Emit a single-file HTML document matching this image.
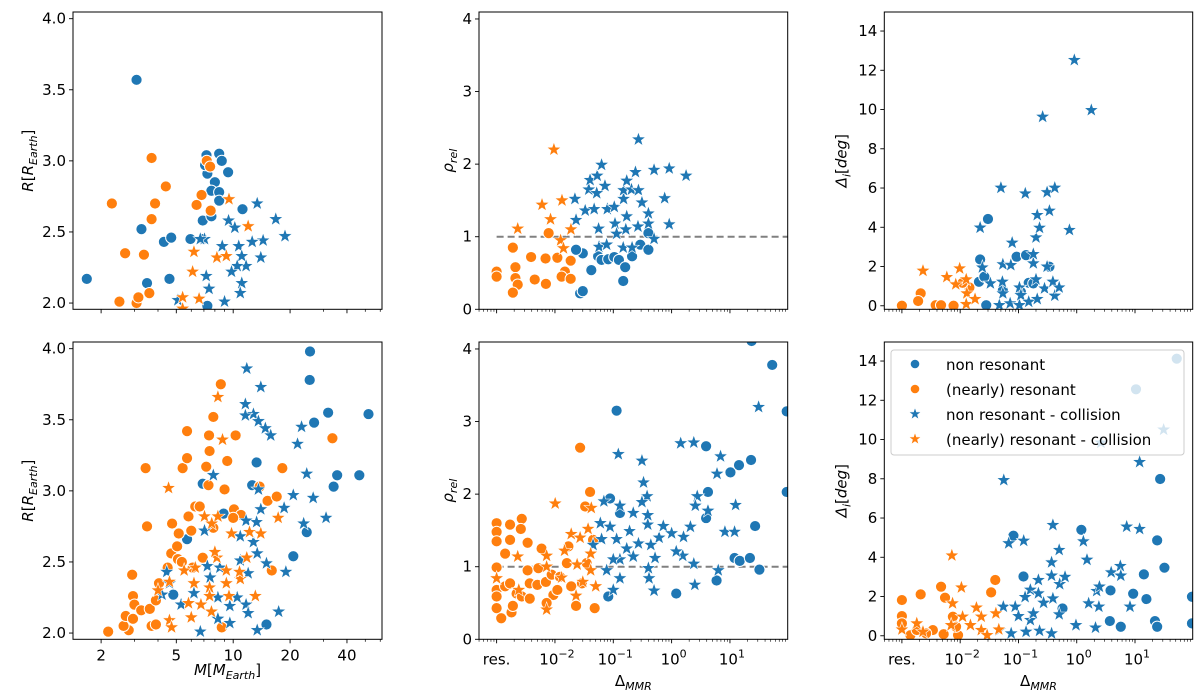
<!DOCTYPE html>
<html><head><meta charset="utf-8"><title>Planet scatter panels</title>
<style>
html,body{margin:0;padding:0;background:#fff;}
svg{display:block;font-family:"DejaVu Sans","Liberation Sans",sans-serif;}
</style></head>
<body>
<svg id="fig" width="1200" height="697" viewBox="0 0 1200 697" xmlns="http://www.w3.org/2000/svg"></svg>
<script>
// ---------- DATA ----------
const aTopNonRes = [[3.08,3.57],[1.68,2.17],[3.27,2.52],[3.5,2.14],[4.3,2.43],[4.7,2.46],[4.6,2.17],[5.94,2.45],[7.22,3.04],[8.43,3.05],[8.7,3.0],[7.3,2.91],[9.4,2.92],[8.0,2.85],[7.67,2.79],[8.43,2.78],[8.43,2.72],[11.2,2.66],[6.9,2.58],[7.67,2.61],[7.3,1.98],[6.9,2.45],[7.1,2.97]];
const aTopRes = [[2.28,2.70],[2.68,2.35],[2.5,2.01],[3.08,2.0],[3.15,2.04],[3.37,2.34],[3.70,3.02],[3.7,2.59],[3.6,2.07],[3.86,2.70],[4.4,2.82],[6.8,2.76],[6.4,2.69],[7.25,3.0],[7.55,2.96],[7.6,2.65]];
const aTopNonResCol = [[13.4,2.70],[16.8,2.59],[18.8,2.47],[14.4,2.44],[12.6,2.43],[10.7,2.40],[14.0,2.32],[11.1,2.33],[11.7,2.26],[10.5,2.26],[9.8,2.22],[11.1,2.14],[8.75,2.40],[9.45,2.58],[7.05,2.45],[7.2,2.19],[7.45,2.10],[9.0,2.01],[10.2,2.53],[10.9,2.07],[6.7,2.45],[5.1,2.02]];
const aTopResCol = [[9.5,2.73],[12.0,2.54],[6.2,2.36],[8.2,2.32],[9.2,2.33],[6.1,2.22],[5.4,2.04],[6.6,2.03],[5.4,1.96]];
const aBotNonRes = [[25.5,3.98],[25.4,3.78],[31.8,3.55],[52,3.54],[26.8,3.48],[13.3,3.20],[35.5,3.11],[46.5,3.11],[34,3.03],[20.8,2.54],[15,2.06],[5.7,2.66],[12.6,3.04],[6.9,3.05],[24.5,2.71],[8.9,2.84],[4.82,2.27]];
const aBotRes = [[2.18,2.01],[2.8,2.02],[2.63,2.05],[2.7,2.12],[2.92,2.41],[2.95,2.26],[3.0,2.20],[2.95,2.10],[3.44,3.16],[3.5,2.75],[3.26,2.16],[3.62,2.17],[3.7,2.05],[3.9,2.23],[4.5,2.46],[4.75,2.77],[4.7,2.56],[5.05,2.61],[5.15,2.70],[5.1,2.52],[5.4,3.16],[5.7,3.42],[5.7,3.23],[5.8,2.82],[6.0,2.72],[6.3,2.89],[6.65,2.89],[7.2,3.17],[7.45,3.39],[7.5,3.28],[7.4,3.04],[7.85,3.52],[8.6,3.75],[9.0,3.01],[9.3,3.21],[10.3,3.39],[10.1,2.87],[11.0,2.83],[13.8,3.03],[15.2,2.93],[17,2.96],[18.2,3.16],[33.5,3.37],[8.7,2.04],[5.35,2.50],[6.9,2.53],[7.85,2.74],[10,2.81],[4.05,2.35],[6.1,2.46],[16,2.44],[3.9,2.06]];
const aBotNonResCol = [[11.8,3.86],[14,3.73],[11.6,3.61],[12.8,3.54],[11.6,3.53],[13.6,3.49],[14.8,3.44],[15.8,3.39],[23,3.45],[21.9,3.33],[24.5,3.12],[26.5,2.95],[20.8,2.97],[31,2.81],[23.6,2.77],[18.6,2.88],[13.6,3.01],[14,2.87],[13.3,2.78],[11.7,2.79],[10.9,2.68],[12.8,2.64],[13.4,2.56],[15,2.49],[19,2.43],[17.4,2.15],[13.4,2.02],[6.7,2.01],[7.85,3.11],[7.05,2.72],[7.3,2.47],[4.45,2.43],[4.2,2.27],[4.6,2.35],[5.3,2.20],[6.2,2.28],[7.55,2.39],[8.3,2.25],[9.6,2.19],[10.5,2.25],[11.7,2.20],[12,2.14],[9.6,2.07],[8.3,2.10],[6.2,2.35],[8.5,2.46],[10.9,2.51],[12,2.42]];
const aBotResCol = [[8.3,3.66],[8.78,3.36],[4.55,3.02],[7.05,2.82],[8.3,2.82],[7.7,2.77],[9.8,2.70],[12.2,2.71],[14,2.70],[17.3,2.81],[13.1,2.26],[11.8,2.53],[10.9,2.38],[10.8,2.43],[9.2,2.44],[9.2,2.35],[8.2,2.53],[8.0,2.57],[7.5,2.32],[7.5,2.26],[7.67,2.15],[6.75,2.20],[6.0,2.11],[5.8,2.21],[6.2,2.35],[6.3,2.46],[4.6,2.09],[4.72,2.04],[4.0,2.30],[4.6,2.36],[5.5,2.44],[9.5,2.26]];
const bTopNonRes = [[0.030,0.77],[0.041,0.55],[0.027,0.22],[0.030,0.25],[0.023,0.82],[0.055,0.73],[0.063,0.68],[0.082,0.69],[0.104,0.72],[0.125,0.68],[0.16,0.58],[0.148,0.39],[0.21,0.73],[0.29,0.89],[0.40,0.82],[0.042,0.54],[0.40,1.05]];
const bTopRes = [[0,0.52],[0,0.45],[0.0019,0.85],[0.0021,0.58],[0.0021,0.43],[0.0023,0.34],[0.0019,0.23],[0.0039,0.72],[0.0045,0.41],[0.0069,0.70],[0.0070,0.35],[0.0078,1.05],[0.011,0.71],[0.0148,0.52],[0.013,0.45],[0.0186,0.67],[0.0186,0.42]];
const bTopNonResCol = [[0.022,1.52],[0.023,1.23],[0.033,1.36],[0.038,1.65],[0.040,1.78],[0.053,1.84],[0.063,1.99],[0.072,1.70],[0.047,1.38],[0.056,1.11],[0.057,0.86],[0.077,0.89],[0.079,1.38],[0.104,1.41],[0.107,1.18],[0.114,1.04],[0.148,0.85],[0.164,1.10],[0.17,1.28],[0.15,1.52],[0.15,1.64],[0.17,1.77],[0.205,1.65],[0.24,1.89],[0.27,2.34],[0.27,1.64],[0.265,1.14],[0.31,1.47],[0.40,1.32],[0.40,1.18],[0.50,0.97],[0.50,1.92],[0.76,1.53],[0.91,1.94],[0.91,1.17],[1.77,1.84],[0.21,0.85],[0.052,1.6]];
const bTopResCol = [[0.0023,1.11],[0.0060,1.44],[0.0096,2.20],[0.0084,1.24],[0.0132,1.50],[0.0125,0.95],[0.0188,1.10],[0.014,0.84]];
const bBotNonRes = [[23.5,4.11],[53,3.78],[0.114,3.15],[94,3.14],[3.9,2.66],[23,2.47],[10.2,2.30],[14.3,2.40],[4.2,2.03],[94,2.03],[27,1.56],[12,1.12],[14.7,1.08],[22,1.12],[32,0.96],[5.9,0.81],[1.2,0.63],[3.9,1.67],[0.13,1.74],[0.088,1.94],[0.082,0.59]];
const bBotRes = [[0,1.60],[0,1.48],[0,1.35],[0,0.99],[0,0.68],[0,0.43],[0,0.59],[0.0014,1.18],[0.0017,1.58],[0.0017,1.37],[0.0027,1.66],[0.0026,1.52],[0.0034,1.33],[0.0034,0.95],[0.0012,0.29],[0.0018,0.37],[0.0019,0.46],[0.0014,0.73],[0.0017,0.77],[0.0022,0.63],[0.0027,0.59],[0.0037,0.56],[0.0037,0.77],[0.0059,1.25],[0.0052,0.98],[0.005,0.75],[0.007,0.79],[0.0094,0.61],[0.0072,0.50],[0.0088,0.89],[0.0122,0.86],[0.016,1.05],[0.017,1.28],[0.023,0.46],[0.027,2.64],[0.040,2.03],[0.033,1.83],[0.045,1.37],[0.048,0.43],[0.035,1.05],[0.029,0.77],[0.019,0.73],[0.011,0.68]];
const bBotNonResCol = [[0.122,2.55],[0.31,2.46],[0.33,2.16],[0.38,1.97],[0.31,1.89],[0.13,1.84],[0.069,1.90],[0.088,1.55],[0.22,1.74],[0.19,1.49],[0.39,1.58],[0.39,1.71],[0.27,1.32],[0.114,1.38],[0.17,1.25],[0.61,1.40],[0.72,1.56],[1.0,1.46],[0.44,1.30],[0.52,1.12],[0.13,1.10],[0.063,1.38],[0.077,0.95],[0.13,0.84],[0.1,0.68],[0.41,0.84],[0.4,0.98],[0.50,0.67],[1.43,2.70],[2.4,2.71],[2.75,1.97],[2.55,1.84],[4.2,1.77],[6.0,2.28],[6.9,2.52],[1.6,1.41],[2.1,1.55],[2.4,1.04],[1.55,1.15],[1.2,1.21],[2.5,0.75],[6.3,0.95],[8.2,1.48],[12,1.48],[12.5,1.85],[31,3.20],[0.045,1.3],[0.06,1.6],[0.22,1.14],[0.1,1.1]];
const bBotResCol = [[0,0.84],[0.0023,1.14],[0.0072,1.15],[0.0072,1.0],[0.0072,0.41],[0.0024,0.68],[0.0101,1.87],[0.013,0.85],[0.0146,1.22],[0.019,1.45],[0.027,1.40],[0.024,1.03],[0.023,0.60],[0.030,0.79],[0.037,1.52],[0.042,1.81],[0.041,0.95],[0.041,1.18],[0.050,0.73]];
const cTopNonRes = [[0.030,4.42],[0.093,2.50],[0.022,2.36],[0.021,1.22],[0.026,1.48],[0.135,2.58],[0.15,1.17],[0.028,0.03],[0.054,0.8],[0.11,0.71],[0.18,1.14],[0.34,1.99]];
const cTopRes = [[0,0],[0.0021,0.63],[0.0019,0.24],[0.0038,0.03],[0.0047,0.03],[0.0077,0],[0.0144,0.93],[0.011,1.17]];
const cTopNonResCol = [[0.022,3.98],[0.024,1.95],[0.033,1.14],[0.050,6.01],[0.054,2.11],[0.053,1.22],[0.047,0.03],[0.054,0.63],[0.078,3.21],[0.074,2.07],[0.072,0.12],[0.104,0.03],[0.104,0.93],[0.11,0.54],[0.131,5.72],[0.15,0.2],[0.18,2.16],[0.18,2.63],[0.2,1.34],[0.2,3.48],[0.21,4.62],[0.23,3.97],[0.21,0.34],[0.26,9.63],[0.28,0.88],[0.31,5.78],[0.31,1.99],[0.34,4.84],[0.39,1.22],[0.42,6.01],[0.42,0.51],[0.5,0.93],[0.75,3.86],[0.91,12.52],[1.78,9.97]];
const cTopResCol = [[0.0023,1.78],[0.0059,1.46],[0.0084,1.09],[0.0098,1.90],[0.0127,1.34],[0.013,0.63],[0.0127,0.08],[0.018,0.34]];
const cBotNonRes = [[52,14.12],[10.4,12.56],[27,7.99],[24,4.86],[1.2,5.4],[0.082,5.10],[0.122,3.02],[3.8,2.31],[9.3,2.14],[14.2,3.13],[15.7,1.87],[32,3.47],[95,1.99],[95,0.63],[3.7,0.75],[5.7,0.46],[22,0.75],[24,0.46],[0.57,1.39]];
const cBotRes = [[0,1.82],[0,1.0],[0,0.63],[0.0021,2.11],[0.0047,2.5],[0.0055,1.94],[0.0052,0.08],[0.0092,0.03],[0.034,2.21],[0.040,2.84],[0.0014,0.03],[0.0018,0.29],[0.0034,0.29],[0.0075,0.97],[0.0085,0.46],[0.0026,0.12]];
const cBotNonResCol = [[0.056,7.93],[0.068,4.71],[0.123,4.84],[0.39,5.64],[0.5,4.37],[0.37,3.74],[0.37,3.06],[0.51,2.63],[0.63,3.0],[1.3,4.81],[1.5,3.87],[0.22,2.84],[0.16,2.34],[0.22,2.16],[0.13,1.97],[0.27,1.68],[0.39,1.90],[0.055,1.48],[0.088,1.48],[0.1,1.0],[0.16,0.8],[0.5,1.09],[0.075,0.12],[0.135,0.2],[0.23,0.25],[0.37,0.12],[0.97,0.54],[2.1,0.41],[1.6,1.65],[2.4,1.48],[2.2,2.28],[2.45,2.5],[3.9,3.23],[5.6,3.55],[5.7,3.06],[7.2,5.56],[8.2,1.48],[12,5.44],[12,8.85],[31,10.5],[2.6,9.84],[0.047,0.29],[0.18,1.14]];
const cBotResCol = [[0,0.32],[0.0072,4.09],[0.0105,2.46],[0.019,1.43],[0.0074,1.65],[0.011,0.97],[0.015,0.54],[0.023,0.29],[0.029,0.03],[0.041,1.14],[0.046,0.32],[0.023,0.97],[0.0023,0.2],[0.0070,0.54],[0.0018,0.63]];
const massTicks = [2,5,10,20,40];
const massMinor = [3,4,6,7,8,9,30,50,60];
const rTicks = [2.0,2.5,3.0,3.5,4.0];
const rhoTicks = [0,1,2,3,4];
const incTicks = [0,2,4,6,8,10,12,14];
const mmrExps = [-2,-1,0,1];
const legendLabels = ["non resonant","(nearly) resonant","non resonant - collision","(nearly) resonant - collision"];

// ---------- DRAW ----------
const NS = "http://www.w3.org/2000/svg";
const svg = document.getElementById("fig");
const BLUE = "#1f77b4", ORANGE = "#ff7f0e";
function mk(tag, attrs, parent){const e=document.createElementNS(NS,tag);for(const k in attrs)e.setAttribute(k,attrs[k]);(parent||svg).appendChild(e);return e;}

function massAxis(L,R){const a=Math.log10(1.42),b=Math.log10(61.3);return v=>L+(Math.log10(v)-a)/(b-a)*(R-L);}
function mmrAxis(L,R){const a=-3.302,b=1.99;return v=>{const lv=v<=0?-3:Math.log10(v);return L+(lv-a)/(b-a)*(R-L);};}
function linAxis(T,B,lo,hi){return v=>B-(v-lo)/(hi-lo)*(B-T);}

const rows=[{T:12,B:309.3,bottom:false},{T:342,B:639.3,bottom:true}];
const cols=[{L:73,R:382},{L:479,R:787.7},{L:884.3,R:1192.7}];
const sets={
 a:[[aTopNonRes,aTopRes,aTopNonResCol,aTopResCol],[aBotNonRes,aBotRes,aBotNonResCol,aBotResCol]],
 b:[[bTopNonRes,bTopRes,bTopNonResCol,bTopResCol],[bBotNonRes,bBotRes,bBotNonResCol,bBotResCol]],
 c:[[cTopNonRes,cTopRes,cTopNonResCol,cTopResCol],[cBotNonRes,cBotRes,cBotNonResCol,cBotResCol]]
};
const seriesColor=[BLUE,ORANGE,BLUE,ORANGE];
const seriesStar=[false,false,true,true];

function starPts(x,y,r){let p=[];for(let i=0;i<10;i++){const rr=i%2?r*0.4:r;const an=-Math.PI/2+i*Math.PI/5;p.push((x+rr*Math.cos(an)).toFixed(2)+","+(y+rr*Math.sin(an)).toFixed(2));}return p.join(" ");}
function marker(g,x,y,i){
 if(seriesStar[i]){const s=mk("polygon",{points:starPts(x,y,7.6),fill:seriesColor[i],stroke:"#fff","stroke-width":0.6},g);
  
  }
 else{const c=mk("circle",{cx:x,cy:y,r:5.6,fill:seriesColor[i],stroke:"#fff","stroke-width":1},g);
  
  }
}
function text(str,x,y,anchor,size,parent){const t=mk("text",{x:x,y:y,"text-anchor":anchor,"font-size":size,fill:"#000"},parent);t.textContent=str;return t;}

["a","b","c"].forEach((key,ci)=>{
 rows.forEach((row,ri)=>{
  const {L,R}=cols[ci],{T,B}=row;
  const g=mk("g",{});
  
  
  const clipId="clip"+key+ri;
  const cp=mk("clipPath",{id:clipId},g);mk("rect",{x:L,y:T,width:R-L,height:B-T},cp);
  let sx,sy,yt,ylo,yhi;
  if(key==="a"){sx=massAxis(L,R);ylo=1.956;yhi=4.047;yt=rTicks;}
  else if(key==="b"){sx=mmrAxis(L,R);ylo=0;yhi=4.096;yt=rhoTicks;}
  else{sx=mmrAxis(L,R);ylo=-0.18;yhi=14.97;yt=incTicks;}
  sy=linAxis(T,B,ylo,yhi);
  const pg=mk("g",{"clip-path":"url(#"+clipId+")"},g);
  
  
  if(key==="b"){const d=mk("line",{x1:sx(0),x2:R,y1:sy(1),y2:sy(1),stroke:"#808080","stroke-width":2,"stroke-dasharray":"7,4"},pg);
   
   }
  sets[key][ri].forEach((arr,si)=>{arr.forEach(p=>marker(pg,sx(p[0]),sy(p[1]),si));});
  yt.forEach(v=>{const y=sy(v);mk("line",{x1:L-4,x2:L,y1:y,y2:y,stroke:"#000","stroke-width":0.9},g);
   const lab=text(key==="a"?v.toFixed(1):String(v),L-7,y+5,"end",15,g);
   
   });
  if(key==="a"){
   massTicks.forEach(v=>{const x=sx(v);mk("line",{x1:x,x2:x,y1:B,y2:B+4,stroke:"#000","stroke-width":0.9},g);
    if(row.bottom){const lab=text(String(v),x,B+21,"middle",15,g);
     
     }});
   massMinor.forEach(v=>{const x=sx(v);mk("line",{x1:x,x2:x,y1:B,y2:B+2.5,stroke:"#000","stroke-width":0.7},g);});
  } else {
   for(let e=-4;e<=1;e++){for(let m=1;m<=9;m++){const v=m*Math.pow(10,e);const x=sx(v);if(x<L||x>R)continue;
    if(m===1&&e>=-3){mk("line",{x1:x,x2:x,y1:B,y2:B+4,stroke:"#000","stroke-width":0.9},g);}
    else mk("line",{x1:x,x2:x,y1:B,y2:B+2.5,stroke:"#000","stroke-width":0.6},g);}}
   if(row.bottom){
    const rl=text("res.",sx(0),B+25,"middle",15,g);
    
    
    mmrExps.forEach(e=>{const x=sx(Math.pow(10,e));const t=mk("text",{x:x+2,y:B+25,"text-anchor":"middle","font-size":15},g);
     
     
     const a=mk("tspan",{},t);a.textContent="10";const s=mk("tspan",{dy:-7,"font-size":11},t);s.textContent=String(e).replace("-","\u2212");});
   }
  }
  mk("rect",{x:L,y:T,width:R-L,height:B-T,fill:"none",stroke:"#000","stroke-width":1},g);
  const cy=(T+B)/2, lx=L-(key==="a"?40:key==="b"?26:38);
  const yl=mk("text",{x:lx,y:cy,"text-anchor":"middle","font-size":15,transform:"rotate(-90 "+lx+" "+cy+")"},g);
  
  
  if(key==="a"){mk("tspan",{"font-style":"italic"},yl).textContent="R";mk("tspan",{},yl).textContent="[";mk("tspan",{"font-style":"italic"},yl).textContent="R";mk("tspan",{"font-size":11,dy:4,"font-style":"italic"},yl).textContent="Earth";mk("tspan",{dy:-4},yl).textContent="]";}
  else if(key==="b"){mk("tspan",{"font-style":"italic"},yl).textContent="\u03c1";mk("tspan",{"font-size":11,dy:4,"font-style":"italic"},yl).textContent="rel";}
  else{mk("tspan",{"font-style":"italic"},yl).textContent="\u0394";mk("tspan",{"font-size":11,dy:4,"font-style":"italic"},yl).textContent="i";mk("tspan",{dy:-4},yl).textContent="[";mk("tspan",{"font-style":"italic"},yl).textContent="deg";mk("tspan",{},yl).textContent="]";}
  if(row.bottom){const cx=(L+R)/2;
   const xl=mk("text",{x:cx,y:key==="a"?675:686,"text-anchor":"middle","font-size":15},g);
   
   
   if(key==="a"){mk("tspan",{"font-style":"italic"},xl).textContent="M";mk("tspan",{},xl).textContent="[";mk("tspan",{"font-style":"italic"},xl).textContent="M";mk("tspan",{"font-size":11,dy:4,"font-style":"italic"},xl).textContent="Earth";mk("tspan",{dy:-4},xl).textContent="]";}
   else{mk("tspan",{},xl).textContent="\u0394";mk("tspan",{"font-size":11,dy:4,"font-style":"italic"},xl).textContent="MMR";}
  }
  if(key==="c"&&row.bottom){
   const lg=mk("g",{});
   
   
   mk("rect",{x:891,y:350,width:293,height:105,rx:3,fill:"rgba(255,255,255,0.8)",stroke:"#cccccc","stroke-width":1},lg);
   legendLabels.forEach((lab,i)=>{const y=364+i*25;
    const e=mk("g",{},lg);
    
    
    if(seriesStar[i])mk("polygon",{points:starPts(915,y,6.5),fill:seriesColor[i],stroke:"#fff","stroke-width":0.6},e);
    else mk("circle",{cx:915,cy:y,r:4.8,fill:seriesColor[i],stroke:"#fff","stroke-width":1},e);
    text(lab,946,y+6,"start",15,e);});
  }
 });
});
</script>
</body></html>
